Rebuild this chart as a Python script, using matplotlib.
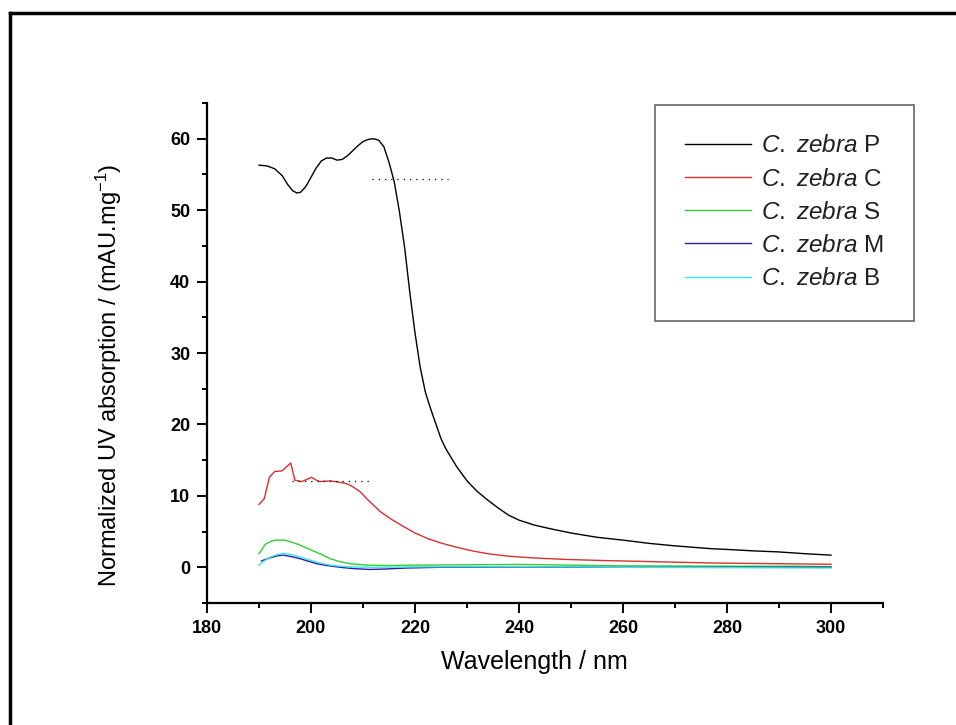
import matplotlib
matplotlib.use("Agg")
import matplotlib.pyplot as plt
from matplotlib.ticker import MultipleLocator
from matplotlib.lines import Line2D

plt.rcParams['font.family'] = ['Liberation Sans', 'DejaVu Sans']
plt.rcParams['mathtext.fontset'] = 'custom'
plt.rcParams['mathtext.rm'] = 'Liberation Sans'
plt.rcParams['mathtext.it'] = 'Liberation Sans:italic'
plt.rcParams['mathtext.default'] = 'regular'

# ---- data ----
x_P = [190, 191.5, 193, 194.5, 195.5, 196.5, 197.3, 198, 199, 200, 201, 202, 203, 204, 205,
       206, 207, 208, 209, 210, 211, 212, 213, 214, 215, 216, 217, 218, 219, 220, 221, 222,
       223, 224, 225, 226, 228, 230, 232, 234, 236, 238, 240, 243, 246, 250, 255, 260, 265,
       270, 277, 280, 285, 290, 295, 300]
y_P = [56.3, 56.2, 55.8, 54.8, 53.6, 52.7, 52.4, 52.5, 53.3, 54.6, 55.9, 56.9, 57.3, 57.3, 57.0,
       57.1, 57.6, 58.3, 59.0, 59.6, 59.9, 60.0, 59.8, 58.9, 56.7, 54.0, 49.8, 44.8, 38.5, 32.8,
       28.0, 24.5, 22.2, 20.1, 18.0, 16.5, 14.1, 12.1, 10.6, 9.4, 8.3, 7.3, 6.6, 5.9, 5.4, 4.8,
       4.2, 3.8, 3.35, 3.0, 2.6, 2.5, 2.3, 2.15, 1.9, 1.7]

x_C = [190, 191, 192, 193, 194.4, 195.2, 196.1, 196.9, 198.2, 199.2, 200.1, 201, 201.7, 203.7,
       205.5, 206.9, 208, 209.4, 211, 213.3, 215.5, 217.8, 220, 222.5, 225, 228, 231, 234, 238,
       243, 249, 256, 265, 277, 290, 300]
y_C = [8.8, 9.6, 12.6, 13.4, 13.5, 14.0, 14.6, 12.2, 12.0, 12.3, 12.6, 12.2, 12.0, 12.1,
       11.9, 11.7, 11.3, 10.6, 9.4, 7.8, 6.7, 5.7, 4.8, 4.0, 3.4, 2.8, 2.3, 1.9, 1.55,
       1.3, 1.1, 0.95, 0.8, 0.6, 0.5, 0.42]

x_S = [190, 191.2, 192.2, 193.1, 195, 197.2, 200.1, 202, 203.7, 205.5, 207.5, 210.7, 215, 220,
       230, 240, 250, 260, 280, 292, 300]
y_S = [1.9, 3.2, 3.6, 3.8, 3.8, 3.3, 2.4, 1.8, 1.2, 0.8, 0.5, 0.3, 0.25, 0.3,
       0.35, 0.4, 0.3, 0.2, 0.15, 0.14, 0.1]

x_M = [190.5, 192, 193.5, 194.7, 196.2, 197.9, 199.5, 201.1, 203, 206.2, 208.5, 211.3, 214,
       218.4, 225, 240, 255, 270, 300]
y_M = [0.9, 1.3, 1.6, 1.7, 1.5, 1.2, 0.85, 0.5, 0.25, -0.05, -0.2, -0.3, -0.25,
       -0.1, 0.0, 0.05, 0.0, 0.0, 0.0]

x_B = [190, 191, 192.1, 193.2, 194.4, 195.5, 196.6, 198, 199.8, 201.7, 203.7, 205.5, 207.5,
       212, 220, 240, 260, 280, 300]
y_B = [0.3, 0.9, 1.4, 1.7, 1.9, 1.9, 1.7, 1.4, 1.0, 0.6, 0.3, 0.15, 0.05,
       0.0, 0.05, 0.1, 0.0, -0.05, -0.1]

# dotted reference levels
dot_P_x = [211.7, 226.3]
dot_P_y = [54.4, 54.4]
dot_C_x = [196.3, 211.3]
dot_C_y = [12.1, 12.1]

labels = [r"$\mathit{C.}$ $\mathit{zebra}$ P", r"$\mathit{C.}$ $\mathit{zebra}$ C",
          r"$\mathit{C.}$ $\mathit{zebra}$ S", r"$\mathit{C.}$ $\mathit{zebra}$ M",
          r"$\mathit{C.}$ $\mathit{zebra}$ B"]
colors = ['#000000', '#d83030', '#30d030', '#2020a8', '#40e0e0']

fig = plt.figure(figsize=(9.56, 7.25), dpi=100)
ax = fig.add_axes([207/956, 1-603/725, 676/956, 500/725])

series = [(x_P, y_P), (x_C, y_C), (x_S, y_S), (x_M, y_M), (x_B, y_B)]
handles = []
for (xs, ys), c, lab in zip(series, colors, labels):
    h, = ax.plot(xs, ys, color=c, lw=1.0, label=lab)
    handles.append(h)

ax.plot(dot_P_x, dot_P_y, color='black', lw=0.9, ls=(0, (1, 4)))
ax.plot(dot_C_x, dot_C_y, color='black', lw=0.9, ls=(0, (1, 4)))

ax.set_xlim(180, 310)
ax.set_ylim(-5, 65)
ax.xaxis.set_major_locator(MultipleLocator(20))
ax.xaxis.set_minor_locator(MultipleLocator(10))
ax.yaxis.set_major_locator(MultipleLocator(10))
ax.yaxis.set_minor_locator(MultipleLocator(5))

for s in ['top', 'right']:
    ax.spines[s].set_visible(False)
for s in ['left', 'bottom']:
    ax.spines[s].set_linewidth(1.6)

ax.tick_params(which='major', direction='out', length=7, width=1.4,
               labelsize=13, colors='black')
ax.tick_params(axis='x', which='major', pad=5)
ax.tick_params(axis='y', which='major', pad=5)
ax.tick_params(which='minor', direction='out', length=3.6, width=1.4)
for lbl in ax.get_xticklabels() + ax.get_yticklabels():
    lbl.set_fontweight('bold')

ax.set_xlabel("Wavelength / nm", fontsize=18)
ax.set_ylabel(r"Normalized UV absorption / (mAU.mg$^{-1}$)", fontsize=17)
ax.xaxis.set_label_coords(0.485, -0.094)
ax.yaxis.set_label_coords(-0.123, 0.456)

leg = fig.legend(handles=handles, labels=labels, loc='upper left',
                 bbox_to_anchor=(655/956, 1-105/725), fontsize=17.5,
                 handlelength=2.7, handletextpad=0.4, labelspacing=0.46,
                 borderpad=1.25, borderaxespad=0, fancybox=False, frameon=True)
leg.get_frame().set_edgecolor('#404040')
leg.get_frame().set_linewidth(1.2)
for t in leg.get_texts():
    t.set_color('#202020')

# outer frame (left and top edges only visible)
fig.add_artist(Line2D([10/956, 10/956], [0, 1-13/725], color='black', lw=2.5,
                      transform=fig.transFigure))
fig.add_artist(Line2D([10/956, 1], [1-13/725, 1-13/725], color='black', lw=2.5,
                      transform=fig.transFigure))

fig.savefig("out.png", dpi=100)
